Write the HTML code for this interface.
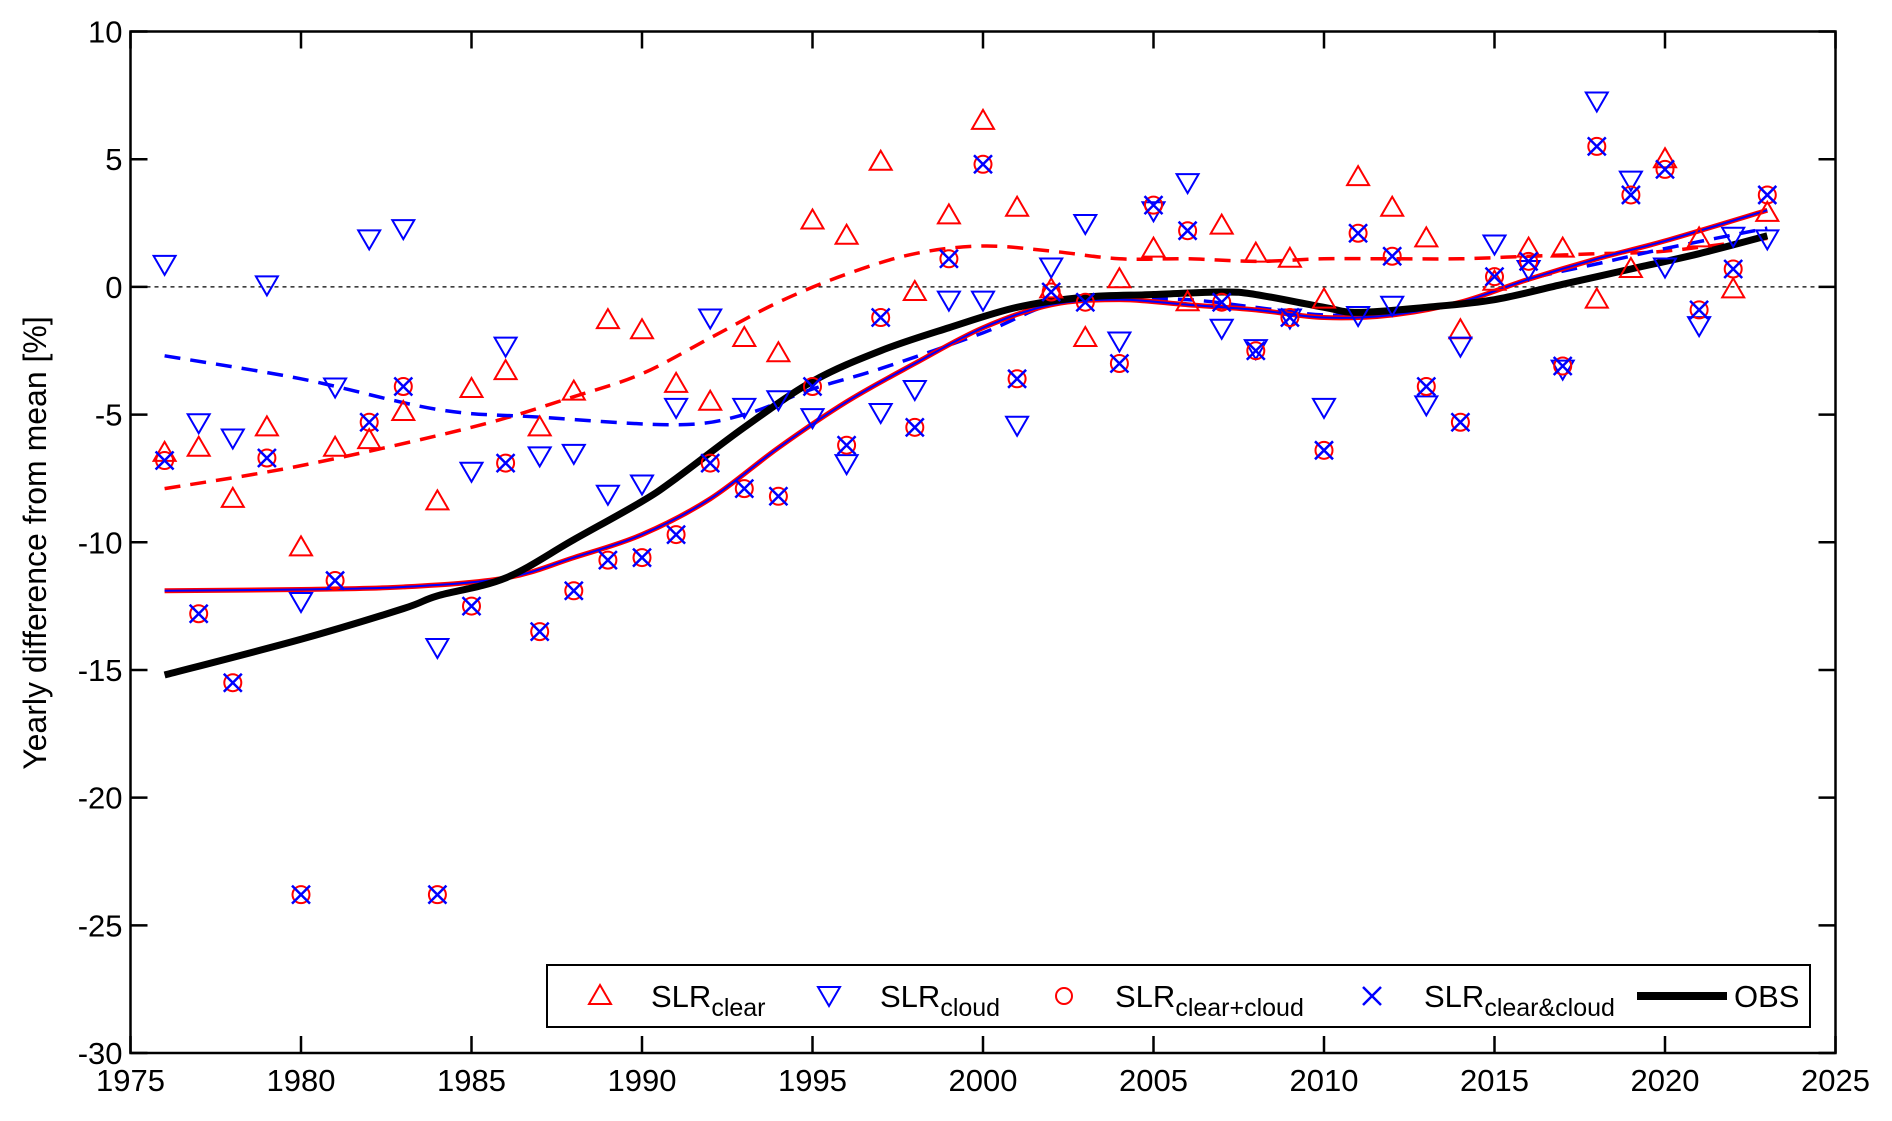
<!DOCTYPE html>
<html><head><meta charset="utf-8">
<style>
html,body{margin:0;padding:0;background:#fff;}
svg{display:block;font-family:"Liberation Sans",Arial,sans-serif;}
</style></head>
<body>
<svg id="chart" width="1892" height="1121" viewBox="0 0 1892 1121">
  <g id="grid"></g>
  <g id="series"></g>
  <g id="axes"></g>
  <text x="0" y="0" transform="translate(46,543) rotate(-90)" text-anchor="middle" font-size="32" fill="#000">Yearly difference from mean [%]</text>
  <g>
    <rect x="547" y="965" width="1263" height="62" fill="#fff" stroke="#000" stroke-width="2"/>
    <g>
      <polygon points="600,985 611,1004 589,1004" fill="none" stroke="#f00" stroke-width="2"/>
      <text x="651" y="1007" font-size="31">SLR<tspan font-size="25" dy="9">clear</tspan></text>
    </g>
    <g>
      <polygon points="818,987 840,987 829,1006" fill="none" stroke="#00f" stroke-width="2"/>
      <text x="880" y="1007" font-size="31">SLR<tspan font-size="25" dy="9">cloud</tspan></text>
    </g>
    <g>
      <circle cx="1064" cy="996" r="8" fill="none" stroke="#f00" stroke-width="2"/>
      <text x="1115" y="1007" font-size="31">SLR<tspan font-size="25" dy="9">clear+cloud</tspan></text>
    </g>
    <g>
      <path d="M1363,987 L1381,1005 M1381,987 L1363,1005" stroke="#00f" stroke-width="2.5"/>
      <text x="1424" y="1007" font-size="31">SLR<tspan font-size="25" dy="9">clear&amp;cloud</tspan></text>
    </g>
    <g>
      <line x1="1637" y1="996" x2="1727" y2="996" stroke="#000" stroke-width="8"/>
      <text x="1734" y="1007" font-size="31">OBS</text>
    </g>
  </g>
</svg>
<script>
const years = [];
for (let y = 1976; y <= 2023; y++) years.push(y);
const slrClear = [-6.5,-6.3,-8.3,-5.5,-10.2,-6.3,-6.0,-4.9,-8.4,-4.0,-3.3,-5.5,-4.1,-1.3,-1.7,-3.8,-4.5,-2.0,-2.6,2.6,2.0,4.9,-0.2,2.8,6.5,3.1,-0.1,-2.0,0.3,1.5,-0.6,2.4,1.3,1.1,-0.5,4.3,3.1,1.9,-1.7,0.2,1.5,1.5,-0.5,0.7,5.0,1.9,-0.1,2.9];
const slrCloud = [0.9,-5.3,-5.9,0.1,-12.3,-3.9,1.9,2.3,-14.1,-7.2,-2.3,-6.6,-6.5,-8.1,-7.7,-4.7,-1.2,-4.7,-4.4,-5.1,-6.9,-4.9,-4.0,-0.5,-0.5,-5.4,0.8,2.5,-2.1,3.0,4.1,-1.6,-2.4,-1.2,-4.7,-1.1,-0.7,-4.6,-2.3,1.7,0.7,-3.2,7.3,4.2,0.8,-1.5,2.0,1.9];
const slrCombined = [-6.8,-12.8,-15.5,-6.7,-23.8,-11.5,-5.3,-3.9,-23.8,-12.5,-6.9,-13.5,-11.9,-10.7,-10.6,-9.7,-6.9,-7.9,-8.2,-3.9,-6.2,-1.2,-5.5,1.1,4.8,-3.6,-0.2,-0.6,-3.0,3.2,2.2,-0.6,-2.5,-1.2,-6.4,2.1,1.2,-3.9,-5.3,0.4,1.0,-3.1,5.5,3.6,4.6,-0.9,0.7,3.6];
const fitClearYears = [1976,1980,1985,1988,1990,1992,1994,1996,1998,2000,2002,2004,2006,2008,2010,2012,2014,2016,2018,2020,2023];
const fitClearVals = [-7.9,-7.0,-5.5,-4.3,-3.4,-2.0,-0.6,0.5,1.3,1.6,1.4,1.1,1.1,1.0,1.1,1.1,1.1,1.2,1.3,1.4,1.9];
const fitCloudYears = [1976,1980,1984,1987,1991,1993,1995,1997,2000,2002,2004,2006,2008,2010,2012,2014,2016,2018,2020,2023];
const fitCloudVals = [-2.7,-3.6,-4.8,-5.1,-5.4,-5.0,-4.0,-3.2,-1.8,-0.7,-0.5,-0.5,-0.8,-1.1,-1.0,-0.6,0.3,0.9,1.5,2.3];
const fitCombYears = [1976,1980,1983,1986,1988,1990,1992,1994,1996,1998,2000,2002,2004,2006,2008,2010,2012,2014,2016,2018,2020,2023];
const fitCombVals = [-11.9,-11.85,-11.75,-11.4,-10.6,-9.7,-8.3,-6.3,-4.5,-3.0,-1.6,-0.7,-0.5,-0.7,-0.9,-1.2,-1.1,-0.6,0.3,1.1,1.8,3.0];
const obsYears = [1976,1980,1983,1984,1986,1988,1990,1991,1993,1995,1997,1999,2001,2003,2005,2007,2008,2010,2011,2013,2015,2017,2019,2021,2023];
const obsVals = [-15.2,-13.8,-12.6,-12.1,-11.4,-9.9,-8.4,-7.5,-5.5,-3.7,-2.5,-1.6,-0.8,-0.4,-0.3,-0.2,-0.3,-0.8,-1.0,-0.8,-0.5,0.1,0.7,1.3,2.0];
const xTicks = [1975,1980,1985,1990,1995,2000,2005,2010,2015,2020,2025];
const yTicks = [10,5,0,-5,-10,-15,-20,-25,-30];

const L=130.5,R=1835.5,T=31.5,B=1053;
const X = v => L + (v-1975)/50*(R-L);
const Y = v => T + (10-v)/40*(B-T);
const NS='http://www.w3.org/2000/svg';
function mk(tag, attrs, parent){const e=document.createElementNS(NS,tag);for(const k in attrs)e.setAttribute(k,attrs[k]);parent.appendChild(e);return e;}
const grid=document.getElementById('grid'), ser=document.getElementById('series'), ax=document.getElementById('axes');

let zl=mk('line',{x1:L,y1:Y(0),x2:R,y2:Y(0),stroke:'#000','stroke-width':1.3,'stroke-dasharray':'4,4'},grid);



function smoothPath(xs, ys){
  const p = xs.map((x,i)=>[X(x),Y(ys[i])]);
  let d='M'+p[0][0]+','+p[0][1];
  for(let i=0;i<p.length-1;i++){
    const p0=p[Math.max(0,i-1)],p1=p[i],p2=p[i+1],p3=p[Math.min(p.length-1,i+2)];
    const c1=[p1[0]+(p2[0]-p0[0])/6,p1[1]+(p2[1]-p0[1])/6];
    const c2=[p2[0]-(p3[0]-p1[0])/6,p2[1]-(p3[1]-p1[1])/6];
    d+=' C'+c1[0]+','+c1[1]+' '+c2[0]+','+c2[1]+' '+p2[0]+','+p2[1];
  }
  return d;
}
let e;
e=mk('path',{d:smoothPath(fitClearYears,fitClearVals),fill:'none',stroke:'#f00','stroke-width':3.5,'stroke-dasharray':'16,10'},ser);


e=mk('path',{d:smoothPath(fitCloudYears,fitCloudVals),fill:'none',stroke:'#00f','stroke-width':3.5,'stroke-dasharray':'16,10'},ser);


e=mk('path',{d:smoothPath(fitCombYears,fitCombVals),fill:'none',stroke:'#f00','stroke-width':5},ser);


e=mk('path',{d:smoothPath(fitCombYears,fitCombVals),fill:'none',stroke:'#00f','stroke-width':2},ser);


e=mk('path',{d:smoothPath(obsYears,obsVals),fill:'none',stroke:'#000','stroke-width':7,'stroke-linejoin':'round'},ser);



years.forEach((yr,i)=>{
  const x=X(yr);
  let y=Y(slrClear[i]);
  let m=mk('polygon',{points:`${x},${y-11} ${x+11},${y+8} ${x-11},${y+8}`,fill:'none',stroke:'#f00','stroke-width':2},ser);
  
  
  y=Y(slrCloud[i]);
  m=mk('polygon',{points:`${x-11},${y-8} ${x+11},${y-8} ${x},${y+11}`,fill:'none',stroke:'#00f','stroke-width':2},ser);
  
  
  y=Y(slrCombined[i]);
  m=mk('circle',{cx:x,cy:y,r:8.5,fill:'none',stroke:'#f00','stroke-width':2},ser);
  
  
  m=mk('path',{d:`M${x-9},${y-9} L${x+9},${y+9} M${x+9},${y-9} L${x-9},${y+9}`,stroke:'#00f','stroke-width':2.5},ser);
  
  
});

e=mk('rect',{x:L,y:T,width:R-L,height:B-T,fill:'none',stroke:'#000','stroke-width':2.5},ax);


xTicks.forEach(t=>{
  const x=X(t);
  let l=mk('path',{d:`M${x},${B} V${B-17} M${x},${T} V${T+17}`,stroke:'#000','stroke-width':2.5},ax);
  
  
  let tx=mk('text',{x:x,y:B+38,'text-anchor':'middle','font-size':31},ax);
  tx.textContent=t;
  
  
});
yTicks.forEach(t=>{
  const y=Y(t);
  let l=mk('path',{d:`M${L},${y} H${L+17} M${R},${y} H${R-17}`,stroke:'#000','stroke-width':2.5},ax);
  
  
  let tx=mk('text',{x:L-8,y:y+11,'text-anchor':'end','font-size':31},ax);
  tx.textContent=t;
  
  
});
</script>
</body></html>
